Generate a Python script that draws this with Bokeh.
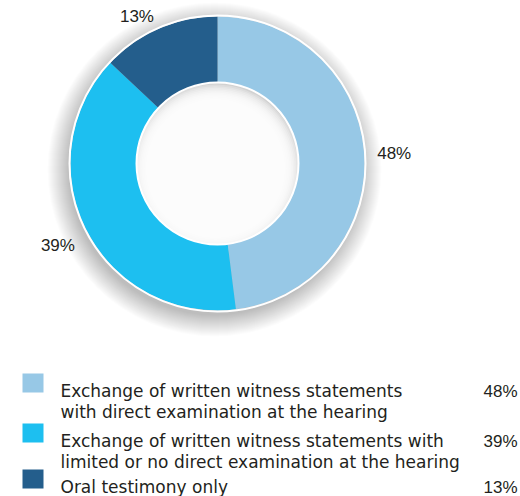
import math
from bokeh.plotting import figure
from bokeh.models import Range1d, ColumnDataSource
from bokeh.core.properties import value
from bokeh.embed import file_html
from bokeh.resources import INLINE

# ---- data ----
categories = [
    "Exchange of written witness statements\nwith direct examination at the hearing",
    "Exchange of written witness statements with\nlimited or no direct examination at the hearing",
    "Oral testimony only",
]
values = [48, 39, 13]
pct_labels = ["48%", "39%", "13%"]
colors = ["#97C8E6", "#1DBFF0", "#245E8C"]

# ---- layout (picture pixel helpers) ----
W, H = 520, 496
def X(px):
    return px
def Y(py):
    return H - py

cx, cy = X(217), Y(163)
r_out, r_in = 147, 81

p = figure(width=W, height=H, x_range=Range1d(0, W), y_range=Range1d(0, H),
           output_backend="svg", toolbar_location=None, min_border=0)
p.axis.visible = False
p.grid.visible = False
p.outline_line_color = None
p.background_fill_color = "white"
p.border_fill_color = "white"

# outer soft shadow
for k in range(22):
    p.circle(x=cx - 3, y=cy - 6, radius=r_out + 20 - k, fill_color="black",
             fill_alpha=0.013, line_color=None)

# inner shadow in hole
p.circle(x=cx, y=cy, radius=r_in + 2, fill_color="#d2d2d2", line_color=None)
for k in range(10):
    p.circle(x=cx - 2, y=cy - 5, radius=r_in + 3 - 1.6 * k, fill_color="white",
             fill_alpha=0.25, line_color=None)

# donut slices
total = float(sum(values))
starts, ends, mids = [], [], []
cum = 0.0
for v in values:
    a0 = math.pi / 2 - 2 * math.pi * cum / total
    cum += v
    a1 = math.pi / 2 - 2 * math.pi * cum / total
    starts.append(a0)
    ends.append(a1)
    mids.append((a0 + a1) / 2)

src = ColumnDataSource(dict(start=starts, end=ends, color=colors))
p.annular_wedge(x=cx, y=cy, inner_radius=r_in, outer_radius=r_out,
                start_angle="start", end_angle="end", direction="clock",
                fill_color="color", line_color=None, source=src)

# white rims
p.circle(x=cx, y=cy, radius=r_out + 1, fill_color=None, line_color="white", line_width=2)
p.circle(x=cx, y=cy, radius=r_in, fill_color=None, line_color="white", line_width=2)

# slice labels
lx, ly, la, lb = [], [], [], []
for m in mids:
    c, s = math.cos(m), math.sin(m)
    lx.append(cx + 160 * c)
    ly.append(cy + 160 * s)
    la.append("left" if c > 0.3 else ("right" if c < -0.3 else "center"))
    lb.append("top" if s < -0.3 else "middle")
lsrc = ColumnDataSource(dict(x=lx, y=ly, t=pct_labels, a=la, b=lb))
p.text(x="x", y="y", text="t", text_align="a", text_baseline="b", source=lsrc,
       text_font=value("Liberation Sans"), text_font_size="17px", text_color="#231f20")

# legend
row_tops = [373, 423, 469]
sq = dict(left=[], right=[], top=[], bottom=[], color=colors)
tx, ty, tt = [], [], []
px_, py_, pt = [], [], []
for i, cat in enumerate(categories):
    top = row_tops[i]
    sq["left"].append(X(22)); sq["right"].append(X(43))
    sq["top"].append(Y(top)); sq["bottom"].append(Y(top + 19))
    for j, line in enumerate(cat.split("\n")):
        tx.append(X(60)); ty.append(Y(top + 17.5 + 21 * j)); tt.append(line)
    px_.append(X(517)); py_.append(Y(top + 17.5)); pt.append(pct_labels[i])

p.quad(left="left", right="right", top="top", bottom="bottom", fill_color="color",
       line_color=None, source=ColumnDataSource(sq))
p.text(x=tx, y=ty, text=tt, text_align="left", text_baseline="alphabetic",
       text_font=value("DejaVu Sans"), text_font_size="17px", text_color="#231f20")
p.text(x=px_, y=py_, text=pt, text_align="right", text_baseline="alphabetic",
       text_font=value("Liberation Sans"), text_font_size="17px", text_color="#231f20")

open("out.html", "w").write(file_html(p, INLINE))
